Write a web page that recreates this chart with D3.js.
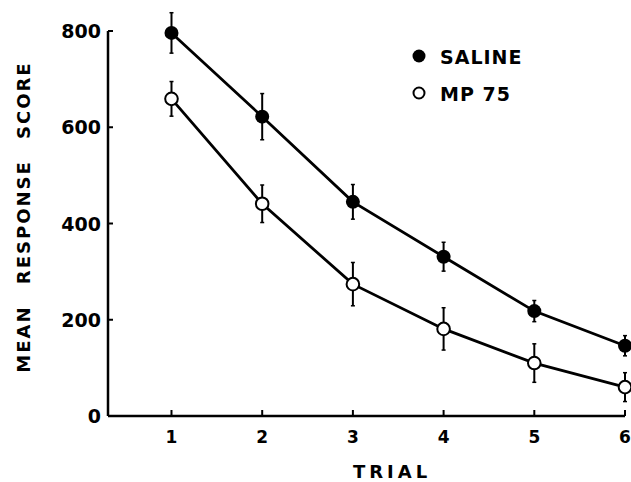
<!DOCTYPE html>
<html>
<head>
<meta charset="utf-8">
<script src="https://cdn.jsdelivr.net/npm/d3@7"></script>
<style>
  body { margin: 0; background: #fff; }
  text { font-family: "DejaVu Sans", sans-serif; font-weight: bold; fill: #000; }
</style>
</head>
<body>
<svg id="chart" width="631" height="482"></svg>
<script>
// data
var trials = [1, 2, 3, 4, 5, 6];
var salineMean = [796, 622, 445, 331, 218, 146];
var salineErr = [42, 48, 36, 30, 22, 21];
var mpMean = [659, 441, 274, 181, 110, 60];
var mpErr = [36, 39, 45, 44, 40, 30];
var yTicks = [0, 200, 400, 600, 800];

var series = [
    {name: "SALINE", mean: salineMean, err: salineErr, filled: true},
    {name: "MP 75", mean: mpMean, err: mpErr, filled: false}
];

var svg = d3.select("#chart");

var x = d3.scaleLinear().domain([0.3, 6]).range([108, 625]);
var y = d3.scaleLinear().domain([0, 800]).range([416, 31]);

// axes
svg.append("line")
    .attr("x1", x(0.3)).attr("x2", x(6))
    .attr("y1", y(0)).attr("y2", y(0))
    .attr("stroke", "#000").attr("stroke-width", 2.5);
svg.append("line")
    .attr("x1", x(0.3)).attr("x2", x(0.3))
    .attr("y1", y(0)).attr("y2", y(800))
    .attr("stroke", "#000").attr("stroke-width", 2.5);

svg.selectAll(".xtick")
    .data(trials)
    .join("line")
    .attr("x1", d => x(d)).attr("x2", d => x(d))
    .attr("y1", y(0)).attr("y2", y(0) - 6)
    .attr("stroke", "#000").attr("stroke-width", 2);

svg.selectAll(".xlab")
    .data(trials)
    .join("text")
    .attr("x", d => x(d))
    .attr("y", 443)
    .attr("text-anchor", "middle")
    .style("font-size", "17px")
    .text(d => d);

svg.selectAll(".ytick")
    .data(yTicks)
    .join("line")
    .attr("x1", x(0.3)).attr("x2", x(0.3) + 5)
    .attr("y1", d => y(d)).attr("y2", d => y(d))
    .attr("stroke", "#000").attr("stroke-width", 2);

svg.selectAll(".ylab")
    .data(yTicks)
    .join("text")
    .attr("x", 101)
    .attr("y", d => y(d) + 7)
    .attr("text-anchor", "end")
    .style("font-size", "19px")
    .text(d => d);

// axis titles
svg.append("text")
    .attr("transform", "translate(30,217) rotate(-90)")
    .attr("text-anchor", "middle")
    .style("font-size", "18px")
    .style("letter-spacing", "2px")
    .style("word-spacing", "13px")
    .text("MEAN RESPONSE SCORE");

svg.append("text")
    .attr("x", 392)
    .attr("y", 478)
    .attr("text-anchor", "middle")
    .style("font-size", "18px")
    .style("letter-spacing", "4px")
    .text("TRIAL");

// lines, error bars, markers
var line = d3.line()
    .x((d, i) => x(trials[i]))
    .y(d => y(d));

series.forEach(s => {
    var g = svg.append("g");
    g.append("path")
        .attr("d", line(s.mean))
        .attr("fill", "none")
        .attr("stroke", "#000")
        .attr("stroke-width", 2.8);

    var pts = s.mean.map((m, i) => ({t: trials[i], m: m, e: s.err[i]}));

    g.selectAll(".err")
        .data(pts)
        .join("line")
        .attr("x1", d => x(d.t)).attr("x2", d => x(d.t))
        .attr("y1", d => y(d.m + d.e)).attr("y2", d => y(d.m - d.e))
        .attr("stroke", "#000").attr("stroke-width", 2);
    g.selectAll(".capt")
        .data(pts)
        .join("line")
        .attr("x1", d => x(d.t) - 2).attr("x2", d => x(d.t) + 2)
        .attr("y1", d => y(d.m + d.e)).attr("y2", d => y(d.m + d.e))
        .attr("stroke", "#000").attr("stroke-width", 1.5);
    g.selectAll(".capb")
        .data(pts)
        .join("line")
        .attr("x1", d => x(d.t) - 2).attr("x2", d => x(d.t) + 2)
        .attr("y1", d => y(d.m - d.e)).attr("y2", d => y(d.m - d.e))
        .attr("stroke", "#000").attr("stroke-width", 1.5);

    g.selectAll("circle")
        .data(pts)
        .join("circle")
        .attr("cx", d => x(d.t))
        .attr("cy", d => y(d.m))
        .attr("r", s.filled ? 7 : 6.3)
        .attr("fill", s.filled ? "#000" : "#fff")
        .attr("stroke", "#000")
        .attr("stroke-width", s.filled ? 0 : 2);
});

// legend
var legend = svg.append("g");
series.forEach((s, i) => {
    var ly = 56 + i * 37;
    legend.append("circle")
        .attr("cx", 419).attr("cy", ly)
        .attr("r", s.filled ? 6.5 : 5.5)
        .attr("fill", s.filled ? "#000" : "#fff")
        .attr("stroke", "#000")
        .attr("stroke-width", s.filled ? 0 : 2);
    legend.append("text")
        .attr("x", 440).attr("y", ly + 8)
        .style("font-size", "19px")
        .style("letter-spacing", "1px")
        .text(s.name);
});
</script>
</body>
</html>
